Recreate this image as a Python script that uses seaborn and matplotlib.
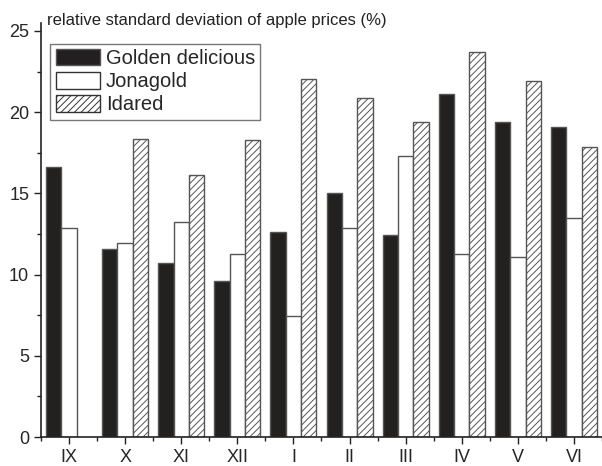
import numpy as np
import pandas as pd
import seaborn as sns
import matplotlib.pyplot as plt
from matplotlib.patches import Patch
from matplotlib.ticker import MultipleLocator

months = ['IX', 'X', 'XI', 'XII', 'I', 'II', 'III', 'IV', 'V', 'VI']
golden = [16.65, 11.6, 10.7, 9.6, 12.6, 15.05, 12.45, 21.1, 19.4, 19.1]
jonagold = [12.9, 11.95, 13.25, 11.25, 7.45, 12.9, 17.3, 11.3, 11.1, 13.5]
idared = [np.nan, 18.35, 16.15, 18.3, 22.05, 20.85, 19.4, 23.7, 21.9, 17.85]
varieties = ['Golden delicious', 'Jonagold', 'Idared']

sns.set_style('ticks')
plt.rcParams['font.family'] = ['Liberation Sans', 'DejaVu Sans']
plt.rcParams['hatch.linewidth'] = 0.7
plt.rcParams['hatch.color'] = '#333333'

df = pd.DataFrame({'month': months * 3,
                   'variety': [varieties[0]] * 10 + [varieties[1]] * 10 + [varieties[2]] * 10,
                   'value': golden + jonagold + idared})

fig = plt.figure(figsize=(6.02, 4.66), dpi=100)
ax = fig.add_axes([0.068, 0.062, 0.932, 0.889])

colors = ['#231f20', 'white', 'white']
sns.barplot(data=df, x='month', y='value', hue='variety', order=months,
            hue_order=varieties, palette=colors, width=0.82, gap=0,
            edgecolor='#555555', linewidth=1, errorbar=None, legend=False, ax=ax)

for bar in ax.containers[2]:
    bar.set_hatch('/////')

ax.set_xlim(-0.49, 9.4)
ax.set_ylim(0, 25.5)
ax.yaxis.set_major_locator(MultipleLocator(5))
ax.yaxis.set_minor_locator(MultipleLocator(2.5))
ax.set_xticks(np.arange(-0.5, 10, 1), minor=True)
ax.tick_params(axis='both', which='major', length=5, width=1, labelsize=13, color='#222222')
ax.tick_params(axis='both', which='minor', length=3, width=1, color='#222222')
ax.set_xlabel('')
ax.set_ylabel('')
sns.despine(ax=ax)
for s in ['left', 'bottom']:
    ax.spines[s].set_linewidth(1.2)
    ax.spines[s].set_color('#222222')

handles = [Patch(facecolor='#231f20', edgecolor='#555555'),
           Patch(facecolor='white', edgecolor='#333333'),
           Patch(facecolor='white', edgecolor='#333333', hatch='/////')]
leg = ax.legend(handles, varieties, loc='upper left', bbox_to_anchor=(0.017, 0.948),
                fontsize=14.5, frameon=True, fancybox=False, edgecolor='#555555',
                handlelength=2.2, handleheight=0.85, handletextpad=0.3,
                labelspacing=0.2, borderpad=0.25, borderaxespad=0)
leg.get_frame().set_linewidth(1)

fig.text(47 / 602, 1 - 20 / 466, 'relative standard deviation of apple prices (%)',
         fontsize=12, va='center', ha='left', color='#222222')

fig.savefig('out.png', dpi=100)
